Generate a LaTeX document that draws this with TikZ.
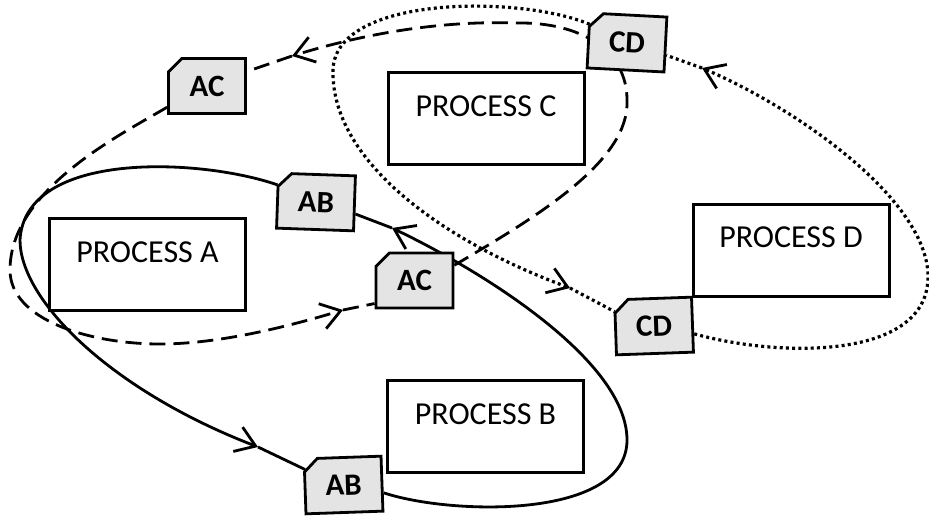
\documentclass[tikz,border=0pt]{standalone}
\usepackage{fontspec}
\setmainfont{Carlito}
\usetikzlibrary{shapes.misc,arrows.meta}
\pgfdeclarelayer{background}
\pgfsetlayers{background,main}
\definecolor{tagfill}{RGB}{228,228,228}
\tikzset{
  procbox/.style={draw, line width=3pt, fill=white, minimum width=196pt, minimum height=92pt,
    inner sep=0pt, font=\fontsize{32}{38}\selectfont, text height=20.5pt, text depth=25.5pt},
  tagbox/.style={chamfered rectangle, chamfered rectangle corners=north west,
    chamfered rectangle xsep=12pt, draw, line width=2.8pt, fill=tagfill,
    minimum width=77pt, minimum height=55pt, inner sep=0pt,
    font=\fontsize{31}{36}\selectfont\bfseries},
  flow/.style={line width=2.8pt},
  dashflow/.style={line width=2.8pt, dash pattern=on 16pt off 8pt},
  dotflow/.style={line width=3.2pt, dash pattern=on 3pt off 3.2pt},
  barbend/.style={-{Straight Barb[length=19pt,width=26pt,line width=2.8pt]}}
}
\begin{document}
\begin{tikzpicture}[x=1pt,y=-1pt]
\useasboundingbox (0,0) rectangle (929,517);
% process boxes
\node[procbox] (A) at (147.5,264.5) {PROCESS A};
\node[procbox] (C) at (486,118.5) {PROCESS C};
\node[procbox] (B) at (485.5,426.5) {PROCESS B};
\node[procbox] (D) at (791,250) {PROCESS D};
% tags
\node[tagbox] (AC1) at (207,86) {AC};
\node[tagbox, rotate=-3] (CD1) at (627,42.5) {CD};
\node[tagbox, rotate=-2] (AB1) at (316,202) {AB};
\node[tagbox] (AC2) at (414.5,280.5) {AC};
\node[tagbox, rotate=2] (CD2) at (654,326) {CD};
\node[tagbox, rotate=2] (AB2) at (343.5,485) {AB};
% arrow points
\coordinate (s1) at (258,447);
\coordinate (s2) at (392,228);
\coordinate (d1) at (292,56);
\coordinate (d2) at (343,310);
\coordinate (p1) at (570,288);
\coordinate (p2) at (702,68);
\begin{pgfonlayer}{background}
% solid loop AB
\draw[flow, barbend] (AB1.158) .. controls (200,158) and (25,150) .. (20,240)
   .. controls (20,300) and (110,390) .. (s1);
\draw[flow] (s1) -- (AB2.156);
\draw[flow, barbend] (AB2.-13) .. controls (450,515) and (627,520) .. (627,440)
   .. controls (627,360) and (480,270) .. (s2);
\draw[flow] (s2) -- (AB1.-15);
% dashed loop AC
\draw[dashflow, barbend] (AC2.21) .. controls (540,215) and (630,160) .. (627,100)
   .. controls (627,50) and (580,22) .. (517,23)
   .. controls (430,20) and (350,38) .. (d1);
\draw[dashflow] (d1) -- (AC1.20);
\draw[dashflow, barbend] (AC1.208) .. controls (120,135) and (10,190) .. (10,270)
   .. controls (10,320) and (90,344) .. (160,344)
   .. controls (220,344) and (290,326) .. (d2);
\draw[dashflow] (d2) -- (AC2.210);
% dotted loop CD
\draw[dotflow, barbend] (CD1.157) .. controls (520,-5) and (335,-5) .. (333,70)
   .. controls (331,160) and (440,240) .. (p1);
\draw[dotflow] (p1) -- (CD2.158);
\draw[dotflow, barbend] (CD2.-13) .. controls (780,358) and (930,360) .. (928,275)
   .. controls (926,200) and (800,110) .. (p2);
\draw[dotflow] (p2) -- (CD1.-15);
\end{pgfonlayer}
\end{tikzpicture}
\end{document}
